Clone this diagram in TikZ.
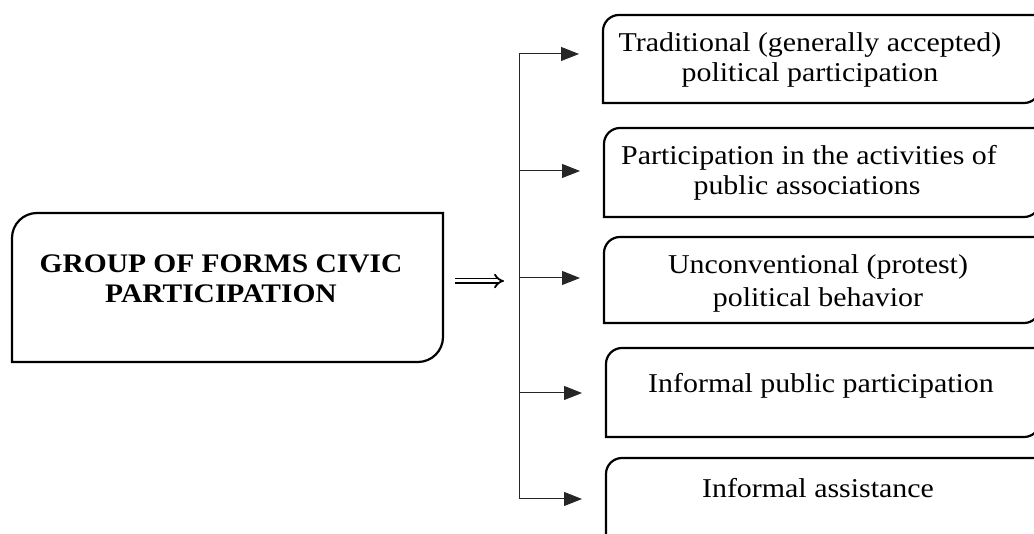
\documentclass[tikz,border=0pt]{standalone}
\usepackage{fontspec}
\setmainfont{Liberation Serif}[FakeStretch=1.1]
\usetikzlibrary{arrows.meta}
\tikzset{
  boxnode/.style={draw=none, inner sep=0pt, outer sep=0pt, rectangle},
  boxline/.style={draw=black, line width=1.1pt},
  txt/.style={inner sep=0pt, outer sep=0pt, anchor=base, font=\fontsize{13.6pt}{15pt}\selectfont},
  bold/.style={txt, font=\fontsize{13.4pt}{15pt}\selectfont\bfseries},
  conn/.style={draw=black!85, line width=0.5pt},
  arr/.style={conn, -{Triangle[length=9pt,width=7pt]}, shorten >=12pt},
  dbl/.style={double=white, double distance=1.5pt, line width=0.9pt, -{Implies}}
}
% draw outline of box with rounded NW and SE corners
\newcommand{\cboxline}[2]{%
  \draw[boxline] (#1.south west) -- ([yshift=-#2]#1.north west)
    arc[start angle=180,end angle=90,radius=#2] -- (#1.north east)
    -- ([yshift=#2]#1.south east)
    arc[start angle=0,end angle=-90,radius=#2] -- cycle;}
\begin{document}
\begin{tikzpicture}[x=0.5pt,y=0.5pt]
\useasboundingbox (0,0) rectangle (1034,534);
\clip (0,0) rectangle (1034,534);
% main box
\node[boxnode, minimum width=215.5pt, minimum height=74.5pt] (m) at (227.5,246.5) {};
\cboxline{m}{12.5pt}
\node[bold] (mt1) at (221,261) {GROUP OF FORMS CIVIC};
\node[bold] (mt2) at (221,231) {PARTICIPATION};
% right boxes
\node[boxnode, minimum width=218.5pt, minimum height=44pt] (b1) at (821.5,475) {};
\node[boxnode, minimum width=218pt, minimum height=44.5pt] (b2) at (822,361.5) {};
\node[boxnode, minimum width=218pt, minimum height=43pt] (b3) at (822,254) {};
\node[boxnode, minimum width=217pt, minimum height=44.5pt] (b4) at (823,141.5) {};
\node[boxnode, minimum width=217pt, minimum height=48pt] (b5) at (823,28) {};
\foreach \b in {b1,b2,b3,b4,b5} {\cboxline{\b}{8pt}}
\node[txt] (t1a) at (810,482) {Traditional (generally accepted)};
\node[txt] (t1b) at (810,452) {political participation};
\node[txt] (t2a) at (809,369) {Participation in the activities of};
\node[txt] (t2b) at (807,339) {public associations};
\node[txt] (t3a) at (818,260) {Unconventional (protest)};
\node[txt] (t3b) at (818,227) {political behavior};
\node[txt] (t4) at (821,141) {Informal public participation};
\node[txt] (t5) at (818,36) {Informal assistance};
% connectors
\coordinate (j1) at (519,480);
\coordinate (j2) at (519,363);
\coordinate (j3) at (519,256);
\coordinate (j4) at (519,141);
\coordinate (j5) at (519,35);
\draw[conn] (j1) -- (j5);
\draw[arr] (j1) -- (b1.west |- j1);
\draw[arr] (j2) -- (b2.west |- j2);
\draw[arr] (j3) -- (b3.west |- j3);
\draw[arr] (j4) -- (b4.west |- j4);
\draw[arr] (j5) -- (b5.west |- j5);
\coordinate (d1) at (455,253);
\coordinate (d2) at (504,253);
\draw[dbl] (d1) -- (d2);
\end{tikzpicture}
\end{document}
